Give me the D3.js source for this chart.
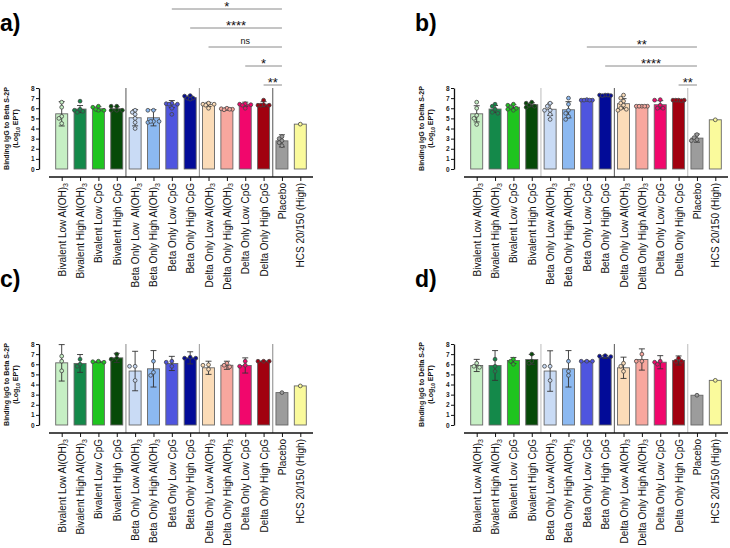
<!DOCTYPE html>
<html><head><meta charset="utf-8">
<script src="https://cdn.jsdelivr.net/npm/d3@7"></script>
<style>
html,body{margin:0;padding:0;background:#fff;}
svg{display:block;font-family:"Liberation Sans",Arial,sans-serif;}
</style></head>
<body>
<svg id="chart" width="730" height="548"></svg>
<script>
// ---------- DATA ----------
const categories = [
  "Bivalent Low Al(OH)3","Bivalent High Al(OH)3","Bivalent Low CpG","Bivalent High CpG",
  "Beta Only Low Al(OH)3","Beta Only High Al(OH)3","Beta Only Low CpG","Beta Only High CpG",
  "Delta Only Low Al(OH)3","Delta Only High Al(OH)3","Delta Only Low CpG","Delta Only High CpG",
  "Placebo","HCS 20/150 (High)"
];
const categoriesA = categories.map((c,i)=> i===4 ? "Beta Only Low  Al(OH)3" : c);
const barColors = ["#c6efc4","#14894a","#1fc41f","#064a08","#c9dbf5","#8cb9f1","#4f55df","#020b98",
                   "#fbdcb8","#f8a79e","#f1076c","#a1000f","#9c9c9c","#fafa9c"];
const yTicks = [0,1,2,3,4,5,6,7,8];
const panelLetters = ["a)","b)","c)","d)"];
const yTitles = ["Binding IgG to Beta S-2P","Binding IgG to Delta S-2P","Binding IgG to Beta S-2P","Binding IgG to Delta S-2P"];

const aMeans = [5.45,5.92,5.95,5.95,5.06,5.06,6.41,7.05,6.38,5.92,6.4,6.4,2.78,4.43];
const aSD    = [1.2,0.35,0.2,0.2,0.8,0.8,0.35,0.15,0.2,0.1,0.2,0.25,0.6,0];
const aPoints = [[6.6,6.1,5.2,5.0,4.5],[6.7,5.9,5.8,5.6,5.7],[6.2,6.1,5.8,5.8,5.9],[6.2,6.2,5.8,5.8,5.8],
  [5.8,5.6,5.4,5.0,4.6,4.0],[5.8,5.8,4.7,4.6,4.7,4.7],[6.5,6.45,6.4,6.4,6.0,5.4],[7.25,7.2,7.0,7.0,6.9],
  [6.5,6.4,6.4,6.3,6.0],[6.0,5.95,5.9,5.85,5.9],[6.45,6.4,6.35,6.3,6.0],[6.8,6.35,6.3,6.3,6.3],
  [3.2,3.0,2.8,2.6,2.3],[4.43]];

const bMeans = [5.45,5.92,6.1,6.35,5.9,5.85,6.82,7.27,6.45,6.2,6.35,6.8,3.05,4.86];
const bSD    = [0.8,0.35,0.25,0.2,0.6,0.8,0.05,0.05,0.5,0.05,0.4,0.05,0.4,0];
const bPoints = [[6.6,6.0,5.3,5.0,4.4],[6.4,6.2,5.9,5.6,5.5],[6.4,6.3,6.1,6.0,5.9,5.8],[6.6,6.5,6.3,6.2,6.1],
  [6.5,6.2,5.8,5.8,5.4,4.9],[7.0,6.4,5.8,5.5,5.2,4.9],[6.85,6.8,6.8,6.8,6.8],[7.3,7.3,7.25,7.25,7.3],
  [7.3,7.0,6.7,6.5,6.3,6.0,5.9,5.8],[6.2,6.2,6.2,6.2,6.2],[6.85,6.8,6.3,6.0,6.0],[6.8,6.8,6.8,6.8,6.75],
  [3.4,3.1,2.9,2.8],[4.86]];

const cMeans = [6.14,6.08,6.24,6.63,5.33,5.55,6.08,6.63,5.65,5.9,5.88,6.3,3.2,3.86];
const cSD    = [1.8,0.88,0.05,0.45,1.95,1.8,0.7,0.6,0.65,0.4,0.75,0.03,0,0];
const cPoints = [[6.8,6.3,5.35],[6.5,6.0,5.8],[6.3,6.25,6.2],[7.0,6.6,6.5],[5.8,5.8,4.4],[6.3,5.2,4.9],
  [6.3,6.2,5.8],[6.7,6.6,6.6],[5.95,5.9,5.5],[6.1,5.9,5.75],[6.3,5.9,5.8],[6.3,6.3,6.3],[3.2],[3.86]];

const dMeans = [5.88,5.88,6.37,6.47,5.33,5.55,6.3,6.73,5.65,6.47,6.2,6.37,2.94,4.41];
const dSD    = [0.6,1.47,0.3,0.5,2.0,1.8,0.03,0.15,1.05,1.05,0.65,0.45,0,0];
const dPoints = [[6.1,5.8,5.7],[6.5,5.8,5.3],[6.5,6.3,6.0],[7.0,6.3,6.1],[5.8,5.8,4.4],[6.3,5.3,4.9],
  [6.3,6.3,6.3],[6.85,6.8,6.75],[6.1,5.8,5.3],[7.0,6.3,6.3],[6.3,6.2,6.0],[6.6,6.3,6.3],[2.94],[4.41]];

// significance brackets: from index -> to index, label (level 0 = lowest)
const aSigFrom = [11,10,8,7,6], aSigTo = [12,12,12,12,12], aSigLabels = ["**","*","ns","****","*"];
const bSigFrom = [11,7,6],      bSigTo = [12,12,12],       bSigLabels = ["**","****","**"];

const panels = [
  {means:aMeans, sd:aSD, pts:aPoints, cats:categoriesA, sigF:aSigFrom, sigT:aSigTo, sigL:aSigLabels, ox:0,   oy:0,   sep:["#555","#888","#555"]},
  {means:bMeans, sd:bSD, pts:bPoints, cats:categories,  sigF:bSigFrom, sigT:bSigTo, sigL:bSigLabels, ox:415, oy:0,   sep:["#bbb","#555","#bbb"]},
  {means:cMeans, sd:cSD, pts:cPoints, cats:categories,  sigF:[], sigT:[], sigL:[], ox:0,   oy:256, sep:["#888","#999","#888"]},
  {means:dMeans, sd:dSD, pts:dPoints, cats:categories,  sigF:[], sigT:[], sigL:[], ox:415, oy:256, sep:["#bbb","#555","#bbb"]}
];

// ---------- DRAW ----------
const svg = d3.select("#chart");
const FONT = "'Liberation Sans', Arial, sans-serif";

function swarm(vals, y, step, r) {
  const placed = [], out = [];
  const cands = [0,-1,1,-2,2].map(k=>k*step);
  vals.forEach(v=>{
    const py = y(v);
    let best = null, bestD = -1;
    for (const dx of cands) {
      const md = placed.length ? d3.min(placed, p=>Math.hypot(p.dx-dx, p.py-py)) : Infinity;
      if (md >= 2*r*0.9) { best = dx; break; }
      if (md > bestD) { bestD = md; best = dx; }
    }
    placed.push({dx:best, py});
    out.push({dx:best, py});
  });
  return out;
}

panels.forEach((p, pi) => {
  const g = svg.append("g").attr("transform", `translate(${p.ox},${p.oy})`);
  const x = d3.scalePoint().domain(d3.range(categories.length)).range([61.7, 300.3]);
  const y = d3.scaleLinear().domain([0, 8]).range([169, 88]);
  const bw = 12, axisY = 177;

  // letter
  g.append("text").attr("x", pi%2===0 ? 0 : 0).attr("y", 31)
    .attr("font-family", FONT).attr("font-weight", "bold").attr("font-size", 23)
    .text(panelLetters[pi]);

  // separators
  [3,7,11].forEach((k,si)=>{
    const sx = (x(k)+x(k+1))/2;
    g.append("line").attr("x1",sx).attr("x2",sx).attr("y1",y(8)).attr("y2",axisY)
      .attr("stroke",p.sep[si]).attr("stroke-width",1);
  });

  // bars
  g.selectAll("rect.bar").data(p.means).join("rect").attr("class","bar")
    .attr("x",(d,i)=>x(i)-bw/2).attr("width",bw)
    .attr("y",d=>y(d)).attr("height",d=>y(0)-y(d))
    .attr("fill",(d,i)=>barColors[i]).attr("stroke","#666").attr("stroke-width",0.9);

  // error bars
  p.means.forEach((m,i)=>{
    const s = p.sd[i];
    if (s <= 0) return;
    const eg = g.append("g").attr("stroke","#333").attr("stroke-width",0.9);
    eg.append("line").attr("x1",x(i)).attr("x2",x(i)).attr("y1",y(m-s)).attr("y2",y(m+s));
    eg.append("line").attr("x1",x(i)-3).attr("x2",x(i)+3).attr("y1",y(m+s)).attr("y2",y(m+s));
    eg.append("line").attr("x1",x(i)-3).attr("x2",x(i)+3).attr("y1",y(m-s)).attr("y2",y(m-s));
  });

  // points
  p.pts.forEach((arr,i)=>{
    const pos = swarm(arr, y, 2.8, 1.9);
    g.selectAll(null).data(pos).join("circle")
      .attr("cx",d=>x(i)+d.dx).attr("cy",d=>d.py).attr("r",1.9)
      .attr("fill",barColors[i]).attr("stroke","#444").attr("stroke-width",0.8);
  });

  // y axis
  const ya = g.append("g").attr("transform","translate(39,0)")
    .call(d3.axisLeft(y).tickValues(yTicks).tickSize(3).tickSizeOuter(0).tickFormat(d3.format("d")));
  ya.select(".domain").attr("stroke","#111").attr("stroke-width",1.3);
  ya.selectAll(".tick line").attr("stroke","#111").attr("stroke-width",1);
  ya.selectAll(".tick text").attr("font-family",FONT).attr("font-size",6.5).attr("font-weight","bold").attr("x",-4.5).attr("fill","#222");

  // y title
  const cy = (y(0)+y(8))/2;
  g.append("text").attr("transform",`translate(8.6,${cy}) rotate(-90)`).attr("text-anchor","middle")
    .attr("font-family",FONT).attr("font-weight","bold").attr("font-size",7).attr("fill","#111")
    .text(yTitles[pi]);
  const t2 = g.append("text").attr("transform",`translate(18,${cy}) rotate(-90)`).attr("text-anchor","middle")
    .attr("font-family",FONT).attr("font-weight","bold").attr("font-size",7).attr("fill","#111");
  t2.append("tspan").text("(Log");
  t2.append("tspan").attr("font-size",5).attr("dy",1.5).text("10");
  t2.append("tspan").attr("dy",-1.5).text(" EPT)");

  // x axis
  const xa = g.append("g").attr("transform",`translate(0,${axisY})`)
    .call(d3.axisBottom(x).tickSize(4).tickSizeOuter(0).tickFormat(""));
  xa.select(".domain").remove();
  xa.selectAll(".tick line").attr("stroke","#111").attr("stroke-width",1);
  xa.append("line").attr("x1",49).attr("x2",313).attr("y1",0).attr("y2",0).attr("stroke","#111").attr("stroke-width",1.6);
  xa.selectAll(".tick").each(function(d){
    const label = p.cats[d];
    const t = d3.select(this).append("text")
      .attr("transform","rotate(-90)").attr("x",-6).attr("y",0).attr("dy","0.35em")
      .attr("text-anchor","end").attr("fill","#111")
      .attr("font-family",FONT).attr("font-size",10).style("white-space","pre");
    if (label.endsWith("Al(OH)3")) {
      t.append("tspan").text(label.slice(0,-1));
      t.append("tspan").attr("font-size",7).attr("dy",2.5).text("3");
    } else {
      t.text(label);
    }
  });

  // significance brackets
  p.sigF.forEach((f,k)=>{
    const ly = 85 - 19*k;
    g.append("line").attr("x1",x(f)).attr("x2",x(p.sigT[k])).attr("y1",ly).attr("y2",ly)
      .attr("stroke","#8a8a8a").attr("stroke-width",1);
    const lab = p.sigL[k];
    const isNs = lab === "ns";
    g.append("text").attr("x",(x(f)+x(p.sigT[k]))/2).attr("y", isNs ? ly-3.5 : ly+2.2)
      .attr("text-anchor","middle").attr("font-family",FONT)
      .attr("font-size", isNs ? 9 : 13).attr("fill","#111").text(lab);
  });
});
</script>
</body></html>
